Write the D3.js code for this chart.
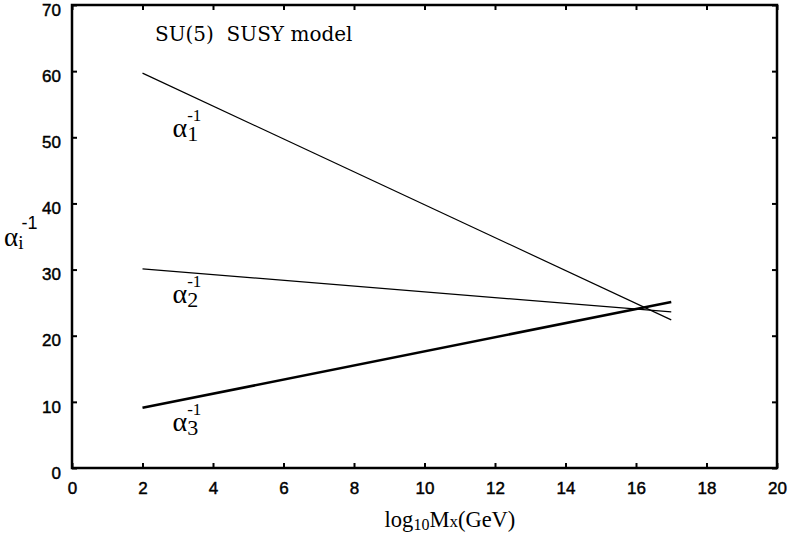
<!DOCTYPE html>
<html>
<head>
<meta charset="utf-8">
<script src="https://cdn.jsdelivr.net/npm/d3@7"></script>
<style>
  body { margin: 0; background: #fff; }
  svg { display: block; }
  .tick text { font-family: "Liberation Sans", Arial, sans-serif; font-size: 17px; fill: #000; stroke: #000; stroke-width: 0.45px; }
  .serif { font-family: "Liberation Serif", "Times New Roman", serif; fill: #000; white-space: pre; }
</style>
</head>
<body>
<svg id="chart" width="790" height="536"></svg>
<script>
// Running inverse gauge couplings vs log10 of the unification scale
const xTicks = [0, 2, 4, 6, 8, 10, 12, 14, 16, 18, 20];
const yTicks = [0, 10, 20, 30, 40, 50, 60, 70];
const logMx = [2, 17];
const alpha1Inv = [59.7, 22.4];
const alpha2Inv = [30.1, 23.6];
const alpha3Inv = [9.1, 25.1];

const series = [
  { name: "1", values: alpha1Inv, width: 1.2, label: { x: 2.85, y: 50.0 } },
  { name: "2", values: alpha2Inv, width: 1.2, label: { x: 2.85, y: 24.9 } },
  { name: "3", values: alpha3Inv, width: 2.6, label: { x: 2.85, y: 5.6 } }
];

const svg = d3.select("#chart");
const margin = { left: 72, right: 13, top: 5, bottom: 68 };
const W = 790, H = 536;

const x = d3.scaleLinear().domain([0, 20]).range([margin.left, W - margin.right]);
const y = d3.scaleLinear().domain([0, 70]).range([H - margin.bottom, margin.top]);

// frame with inward ticks on all four sides
const tickLen = 5;
svg.append("g")
  .attr("transform", `translate(0,${y(0)})`)
  .call(d3.axisBottom(x).tickValues(xTicks).tickSizeInner(-tickLen).tickSizeOuter(0).tickPadding(14))
  .call(g => g.select(".domain").remove());
svg.append("g")
  .attr("transform", `translate(${x(0)},0)`)
  .call(d3.axisLeft(y).tickValues(yTicks).tickSizeInner(-tickLen).tickSizeOuter(0).tickPadding(11))
  .call(g => g.select(".domain").remove())
  .call(g => g.selectAll(".tick text").attr("dy", "0.6em"));
svg.append("g")
  .attr("transform", `translate(0,${y(70)})`)
  .call(d3.axisTop(x).tickValues(xTicks).tickSizeInner(-tickLen).tickSizeOuter(0).tickFormat(""))
  .call(g => g.select(".domain").remove());
svg.append("g")
  .attr("transform", `translate(${x(20)},0)`)
  .call(d3.axisRight(y).tickValues(yTicks).tickSizeInner(-tickLen).tickSizeOuter(0).tickFormat(""))
  .call(g => g.select(".domain").remove());
svg.selectAll(".tick line").attr("stroke", "#000").attr("stroke-width", 2);

svg.append("rect")
  .attr("x", x(0)).attr("y", y(70))
  .attr("width", x(20) - x(0)).attr("height", y(0) - y(70))
  .attr("fill", "none").attr("stroke", "#000").attr("stroke-width", 2.5);

// coupling lines
const line = d3.line().x((d, i) => x(logMx[i])).y(d => y(d));
svg.selectAll("path.coupling")
  .data(series)
  .join("path")
  .attr("class", "coupling")
  .attr("d", d => line(d.values))
  .attr("fill", "none")
  .attr("stroke", "#000")
  .attr("stroke-width", d => d.width);

// series labels: alpha with subscript index and superscript -1 stacked above it
series.forEach(s => {
  const t = svg.append("text").attr("class", "serif")
    .attr("x", x(s.label.x)).attr("y", y(s.label.y))
    .style("font-size", "28px");
  t.append("tspan").text("α");
  t.append("tspan").attr("dy", 4).style("font-size", "22px").text(s.name);
  t.append("tspan").attr("dx", -11).attr("dy", -20).style("font-size", "17px").text("-1");
});

// title inside the plot
svg.append("text")
  .attr("x", 155).attr("y", 41)
  .style("font-family", "'DejaVu Serif', serif").style("font-size", "20px")
  .style("white-space", "pre")
  .text("SU(5)  SUSY model");

// y-axis label
const yl = svg.append("text").attr("class", "serif")
  .attr("x", 4).attr("y", 246).style("font-size", "27px");
yl.append("tspan").text("α");
yl.append("tspan").attr("dy", 3).style("font-size", "19px").text("i");
yl.append("tspan").attr("dx", -2).attr("dy", -20).style("font-family", "Liberation Sans, Arial, sans-serif").style("font-size", "18px").text("-1");

// x-axis label
const xl = svg.append("text").attr("class", "serif")
  .attr("x", 450).attr("y", 527)
  .attr("text-anchor", "middle").style("font-size", "22.5px");
xl.append("tspan").text("log");
xl.append("tspan").attr("dy", 3).style("font-size", "16px").text("10");
xl.append("tspan").attr("dy", -3).text("M");
xl.append("tspan").style("font-size", "17px").text("x");
xl.append("tspan").text("(GeV)");
</script>
</body>
</html>
